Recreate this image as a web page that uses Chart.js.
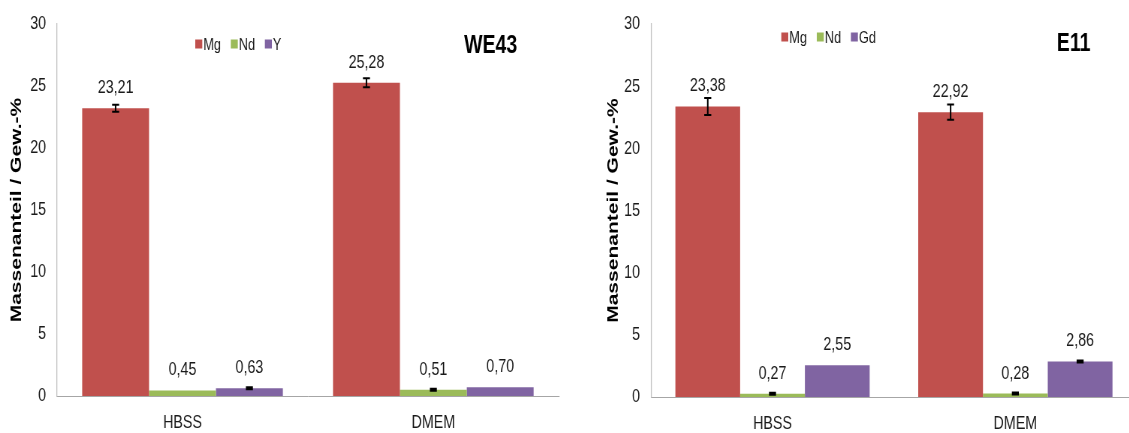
<!DOCTYPE html>
<html>
<head>
<meta charset="utf-8">
<script src="https://cdn.jsdelivr.net/npm/chart.js@4"></script>
<style>
  html, body { margin: 0; padding: 0; background: #fff; }
  body { width: 1129px; height: 433px; overflow: hidden; position: relative; }
  .panel { position: absolute; top: 0; height: 433px; transform-origin: 0 0; }
</style>
</head>
<body>
<div class="panel" id="panelWE43"><canvas id="chartWE43"></canvas></div>
<div class="panel" id="panelE11"><canvas id="chartE11"></canvas></div>
<script>
// Immersion media (categories)
const media = ['HBSS', 'DMEM'];

// WE43: element mass fractions (wt.-%) and their standard deviations
const we43Labels = ['Mg', 'Nd', 'Y'];
const we43Mg = [23.21, 25.28];
const we43Nd = [0.45, 0.51];
const we43Y = [0.63, 0.70];
const we43MgErr = [0.28, 0.36];
const we43NdErr = [0, 0.08];
const we43YErr = [0.08, 0];

// E11: element mass fractions (wt.-%) and their standard deviations
const e11Labels = ['Mg', 'Nd', 'Gd'];
const e11Mg = [23.38, 22.92];
const e11Nd = [0.27, 0.28];
const e11Gd = [2.55, 2.86];
const e11MgErr = [0.68, 0.62];
const e11NdErr = [0.08, 0.08];
const e11GdErr = [0, 0.08];

// Y-axis ticks
const yMin = 0, yMax = 30, yStep = 5;
const yTitle = 'Massenanteil / Gew.-%';

const colors = ['#C0504D', '#9BBB59', '#8064A2'];
const sans = "'Liberation Sans', Arial, sans-serif";

// The panels are laid out wider and squeezed horizontally so the
// Arial-style lettering gets the condensed look of the figure.
const SQUEEZE = 0.75;
const px = v => v / SQUEEZE;   // on-screen horizontal size -> layout size

const fmt = v => v.toFixed(2).replace('.', ',');

// Draws error bars, value labels, the legend and the panel heading
const decorPlugin = {
  id: 'panelDecor',
  afterDatasetsDraw(chart, args, opts) {
    const ctx = chart.ctx;
    const yScale = chart.scales.y;
    ctx.save();
    chart.data.datasets.forEach((ds, di) => {
      const meta = chart.getDatasetMeta(di);
      meta.data.forEach((bar, i) => {
        const v = ds.data[i];
        const e = opts.errors[di][i];
        if (e > 0) {
          const yTop = yScale.getPixelForValue(v + e);
          const yBot = yScale.getPixelForValue(v - e);
          const cap = px(3.5);
          ctx.strokeStyle = '#000';
          ctx.lineWidth = 2;
          ctx.beginPath();
          ctx.moveTo(bar.x, yTop);
          ctx.lineTo(bar.x, yBot);
          ctx.stroke();
          ctx.beginPath();
          ctx.moveTo(bar.x - cap, yTop);
          ctx.lineTo(bar.x + cap, yTop);
          ctx.moveTo(bar.x - cap, yBot);
          ctx.lineTo(bar.x + cap, yBot);
          ctx.stroke();
        }
        ctx.fillStyle = '#1a1a1a';
        ctx.font = '19px ' + sans;
        ctx.textAlign = 'center';
        ctx.textBaseline = 'alphabetic';
        ctx.fillText(fmt(v), bar.x, bar.y - 15);
      });
    });

    // legend
    ctx.font = '17px ' + sans;
    ctx.textBaseline = 'middle';
    ctx.textAlign = 'left';
    let x = opts.legendX;
    chart.data.datasets.forEach(ds => {
      ctx.fillStyle = ds.backgroundColor;
      ctx.fillRect(x, opts.legendY - 4.5, px(7), 9);
      ctx.fillStyle = '#1a1a1a';
      ctx.fillText(ds.label, x + px(8), opts.legendY + 1);
      x += px(8) + ctx.measureText(ds.label).width + 13;
    });

    // heading
    ctx.font = 'bold 26px ' + sans;
    ctx.textAlign = 'center';
    ctx.fillStyle = '#000';
    ctx.fillText(opts.title, opts.titleX, opts.titleY);
    ctx.restore();
  }
};

function makeChart(panelId, canvasId, labels, series, errors, deco) {
  const panel = document.getElementById(panelId);
  panel.style.left = deco.left + 'px';
  panel.style.width = px(deco.width) + 'px';
  panel.style.transform = 'scaleX(' + SQUEEZE + ')';

  return new Chart(document.getElementById(canvasId), {
    type: 'bar',
    data: {
      labels: media,
      datasets: labels.map((lab, k) => ({
        label: lab,
        data: series[k],
        backgroundColor: colors[k],
        borderWidth: 0,
        categoryPercentage: 0.8,
        barPercentage: 1.0
      }))
    },
    options: {
      responsive: true,
      maintainAspectRatio: false,
      animation: false,
      layout: { padding: { top: deco.padTop, right: px(deco.padRight), left: 0, bottom: 0 } },
      scales: {
        x: {
          grid: { display: false, drawTicks: false },
          border: { color: '#A6A6A6', width: 1 },
          ticks: { color: '#1a1a1a', font: { family: sans, size: 19 }, padding: 15 },
          afterFit(scale) { scale.height = deco.xAxisHeight; }
        },
        y: {
          min: yMin, max: yMax,
          grid: { display: false, drawTicks: false },
          border: { color: '#BFBFBF', width: px(1) },
          ticks: { stepSize: yStep, color: '#1a1a1a', font: { family: sans, size: 19, lineHeight: 1 }, padding: px(11) },
          title: {
            display: true, text: yTitle, color: '#000',
            font: { family: sans, size: 21, weight: 'bold' },
            padding: { top: deco.titlePad, bottom: 0 }
          },
          afterFit(scale) { scale.width = px(deco.yAxisWidth); }
        }
      },
      plugins: {
        legend: { display: false },
        tooltip: { enabled: false },
        panelDecor: {
          errors: errors,
          legendX: px(deco.legendX), legendY: deco.legendY,
          title: deco.title, titleX: px(deco.titleX), titleY: deco.titleY
        }
      }
    },
    plugins: [decorPlugin]
  });
}

makeChart('panelWE43', 'chartWE43', we43Labels, [we43Mg, we43Nd, we43Y],
  [we43MgErr, we43NdErr, we43YErr],
  { left: 0, width: 566, yAxisWidth: 57, padRight: 8, padTop: 20, xAxisHeight: 37, titlePad: 10,
    legendX: 195, legendY: 44, title: 'WE43', titleX: 490, titleY: 46 });

makeChart('panelE11', 'chartE11', e11Labels, [e11Mg, e11Nd, e11Gd],
  [e11MgErr, e11NdErr, e11GdErr],
  { left: 596, width: 545, yAxisWidth: 55, padRight: 5, padTop: 20, xAxisHeight: 36, titlePad: 11,
    legendX: 185, legendY: 37, title: 'E11', titleX: 477, titleY: 44 });
</script>
</body>
</html>
